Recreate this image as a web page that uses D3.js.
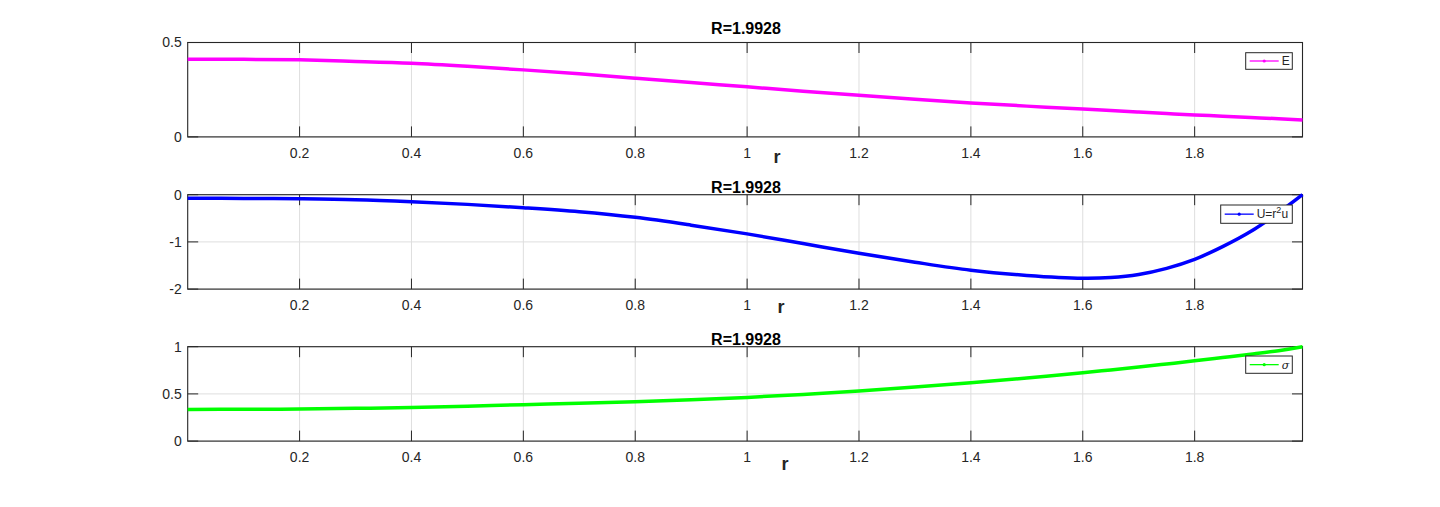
<!DOCTYPE html>
<html>
<head>
<meta charset="utf-8">
<script src="https://cdn.jsdelivr.net/npm/d3@7"></script>
<style>
  body { margin: 0; background: #fff; }
  svg { display: block; font-family: "Liberation Sans", Arial, sans-serif; }
</style>
</head>
<body>
<svg id="chart" width="1440" height="507"></svg>
<script>
// values
var titleText = "R=1.9928";
var rMax = 1.9928;
var rValues = [0, 0.1, 0.2, 0.3, 0.4, 0.5, 0.6, 0.7, 0.8, 0.9, 1.0, 1.1, 1.2, 1.3, 1.4,
  1.5, 1.6, 1.65, 1.7, 1.75, 1.8, 1.85, 1.9, 1.95, 1.9928];
var eValues = [0.411, 0.411, 0.408, 0.400, 0.390, 0.374, 0.355, 0.334, 0.311, 0.288, 0.265,
  0.242, 0.220, 0.199, 0.180, 0.163, 0.148, 0.140, 0.132, 0.124, 0.116, 0.110, 0.103, 0.096, 0.090];
var uValues = [-0.076, -0.078, -0.086, -0.105, -0.148, -0.205, -0.275, -0.36, -0.48, -0.645, -0.83,
  -1.035, -1.24, -1.43, -1.60, -1.71, -1.77, -1.755, -1.69, -1.56, -1.37, -1.10, -0.78, -0.38, 0.0];
var sigmaValues = [0.336, 0.337, 0.340, 0.347, 0.357, 0.370, 0.386, 0.400, 0.417, 0.438, 0.463,
  0.494, 0.530, 0.572, 0.618, 0.668, 0.724, 0.754, 0.785, 0.817, 0.850, 0.885, 0.920, 0.958, 1.0];
var xTicks = [0.2, 0.4, 0.6, 0.8, 1, 1.2, 1.4, 1.6, 1.8];
var eTicks = [0, 0.5];
var uTicks = [-2, -1, 0];
var sigmaTicks = [0, 0.5, 1];

var svg = d3.select("#chart");
var left = 187.7, right = 1302.5, ph = 94.4;
var tickLen = 10.5;

var x = d3.scaleLinear().domain([0, rMax]).range([left, right]);

var panels = [
  { top: 42.5, vals: eValues, ticks: eTicks, dom: [0, 0.5], color: "#ff00ff",
    titleY: 34, labX: 777, labY: 163, leg: [1245.7, 52.7, 46.6, 16.6], label: "E" },
  { top: 194.7, vals: uValues, ticks: uTicks, dom: [-2, 0], color: "#0000ff",
    titleY: 192.5, labX: 781, labY: 313, leg: [1220.7, 205, 71.6, 18.3], label: "U" },
  { top: 346.7, vals: sigmaValues, ticks: sigmaTicks, dom: [0, 1], color: "#00ff00",
    titleY: 344.5, labX: 785, labY: 470, leg: [1245.7, 356, 46.6, 17.3], label: "sigma" }
];

panels.forEach(function (p) {
  var bottom = p.top + ph;
  var y = d3.scaleLinear().domain(p.dom).range([bottom, p.top]);
  var g = svg.append("g");

  // grid
  g.selectAll(".gx").data(xTicks).enter().append("line")
    .attr("x1", d => x(d)).attr("x2", d => x(d))
    .attr("y1", p.top).attr("y2", bottom)
    .attr("stroke", "#dedede").attr("stroke-width", 1);
  g.selectAll(".gy").data(p.ticks).enter().append("line")
    .attr("x1", left).attr("x2", right)
    .attr("y1", d => y(d)).attr("y2", d => y(d))
    .attr("stroke", "#dedede").attr("stroke-width", 1);

  // inward ticks on all four sides
  var tc = "#262626";
  xTicks.forEach(function (t) {
    g.append("line").attr("x1", x(t)).attr("x2", x(t)).attr("y1", bottom).attr("y2", bottom - tickLen).attr("stroke", tc);
    g.append("line").attr("x1", x(t)).attr("x2", x(t)).attr("y1", p.top).attr("y2", p.top + tickLen).attr("stroke", tc);
  });
  p.ticks.forEach(function (t) {
    g.append("line").attr("x1", left).attr("x2", left + tickLen).attr("y1", y(t)).attr("y2", y(t)).attr("stroke", tc);
    g.append("line").attr("x1", right).attr("x2", right - tickLen).attr("y1", y(t)).attr("y2", y(t)).attr("stroke", tc);
  });

  // box
  g.append("rect").attr("x", left).attr("y", p.top)
    .attr("width", right - left).attr("height", ph)
    .attr("fill", "none").attr("stroke", tc).attr("stroke-width", 1.1);

  // tick labels
  g.selectAll(".xl").data(xTicks).enter().append("text")
    .attr("x", d => x(d)).attr("y", bottom + 21)
    .attr("text-anchor", "middle").attr("font-size", 14).attr("fill", tc)
    .text(d => d);
  g.selectAll(".yl").data(p.ticks).enter().append("text")
    .attr("x", left - 6).attr("y", d => y(d)).attr("dy", "0.35em")
    .attr("text-anchor", "end").attr("font-size", 14).attr("fill", tc)
    .text(d => d);

  // curve
  var line = d3.line()
    .x((d, i) => x(rValues[i]))
    .y(d => y(d))
    .curve(d3.curveCatmullRom.alpha(0.5));
  g.append("path").datum(p.vals)
    .attr("d", line)
    .attr("fill", "none").attr("stroke", p.color)
    .attr("stroke-width", 3.5).attr("stroke-linejoin", "round");

  // title and x label
  g.append("text").attr("x", 746).attr("y", p.titleY)
    .attr("text-anchor", "middle").attr("font-size", 16).attr("font-weight", "bold")
    .attr("fill", "#000").text(titleText);
  g.append("text").attr("x", p.labX).attr("y", p.labY)
    .attr("text-anchor", "middle").attr("font-size", 18).attr("font-weight", "bold")
    .attr("fill", "#262626").text("r");

  // legend
  var lb = p.leg;
  g.append("rect").attr("x", lb[0]).attr("y", lb[1]).attr("width", lb[2]).attr("height", lb[3])
    .attr("fill", "#fff").attr("stroke", "#262626").attr("stroke-width", 1);
  var ly = lb[1] + lb[3] / 2;
  g.append("line").attr("x1", lb[0] + 4).attr("x2", lb[0] + 33).attr("y1", ly).attr("y2", ly)
    .attr("stroke", p.color).attr("stroke-width", 1.3);
  g.append("circle").attr("cx", lb[0] + 18.5).attr("cy", ly).attr("r", 1.6).attr("fill", p.color);
  var lt = g.append("text").attr("x", lb[0] + 36).attr("y", ly).attr("dy", "0.36em")
    .attr("font-size", 12).attr("fill", "#262626");
  if (p.label === "U") {
    lt.append("tspan").text("U=r");
    lt.append("tspan").attr("baseline-shift", "super").attr("font-size", 9).text("2");
    lt.append("tspan").text("u");
  } else if (p.label === "sigma") {
    lt.attr("font-style", "italic").attr("font-family", "'DejaVu Serif', serif").attr("font-size", 11).text("σ");
  } else {
    lt.text(p.label);
  }
});
</script>
</body>
</html>
